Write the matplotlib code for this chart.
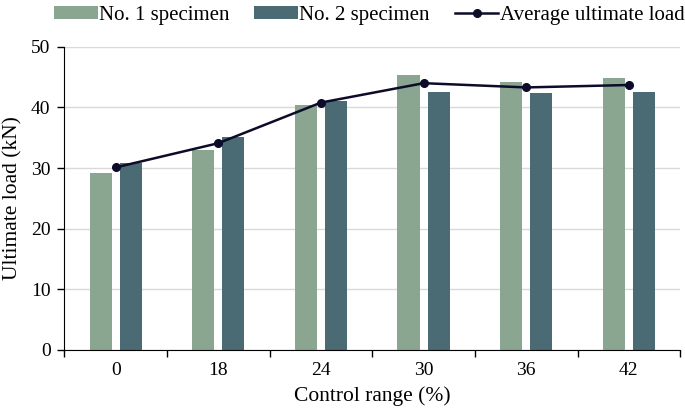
import numpy as np
import matplotlib.pyplot as plt
from matplotlib.ticker import FixedLocator

plt.rcParams['font.family'] = ['Liberation Serif', 'DejaVu Serif']

categories = ["0", "18", "24", "30", "36", "42"]
specimen1 = [29.1, 32.9, 40.4, 45.4, 44.2, 44.8]
specimen2 = [30.9, 35.2, 41.1, 42.6, 42.3, 42.6]
average = [30.1, 34.1, 40.8, 44.0, 43.3, 43.7]

c1 = "#8aa690"
c2 = "#4a6b73"
cline = "#0c0c2a"

fig = plt.figure(figsize=(6.85, 4.18), dpi=100)
ax = fig.add_axes([0.094, 0.163, 0.899, 0.725])

x = np.arange(len(categories))
w = 0.215
off = 0.147
b1 = ax.bar(x - off, specimen1, w, color=c1, label="No. 1 specimen", zorder=2)
b2 = ax.bar(x + off, specimen2, w, color=c2, label="No. 2 specimen", zorder=2)
ln, = ax.plot(x, average, color=cline, lw=1.8, marker="o", ms=5.5,
              label="Average ultimate load", zorder=3)

ax.set_xlim(-0.5, len(categories) - 0.5)
ax.set_ylim(0, 50)
ax.set_yticks(np.arange(0, 51, 10))
ax.set_xticks(x)
ax.set_xticklabels(categories)
ax.xaxis.set_minor_locator(FixedLocator(np.arange(-0.5, len(categories), 1.0)))
ax.tick_params(axis="x", which="major", length=0, labelsize=14, pad=9)
ax.tick_params(axis="x", which="minor", length=5, width=1, direction="out")
ax.tick_params(axis="y", length=5, width=1, labelsize=14, pad=5)

ax.grid(axis="y", color="#d9d9d9", lw=1, zorder=0)
ax.set_axisbelow(True)
for s in ["top", "right"]:
    ax.spines[s].set_visible(False)

ax.set_xlabel("Control range (%)", fontsize=15.5, labelpad=5)
ax.set_ylabel("Ultimate load (kN)", fontsize=15.5, labelpad=6)

ax.legend([b1, b2, ln], [b1.get_label(), b2.get_label(), ln.get_label()],
          loc="lower center", bbox_to_anchor=(0.495, 1.045), ncol=3, frameon=False,
          fontsize=15, handlelength=2.1, handleheight=0.55, columnspacing=1.2,
          handletextpad=0.05, borderaxespad=0)

fig.savefig("out.png", dpi=100)
